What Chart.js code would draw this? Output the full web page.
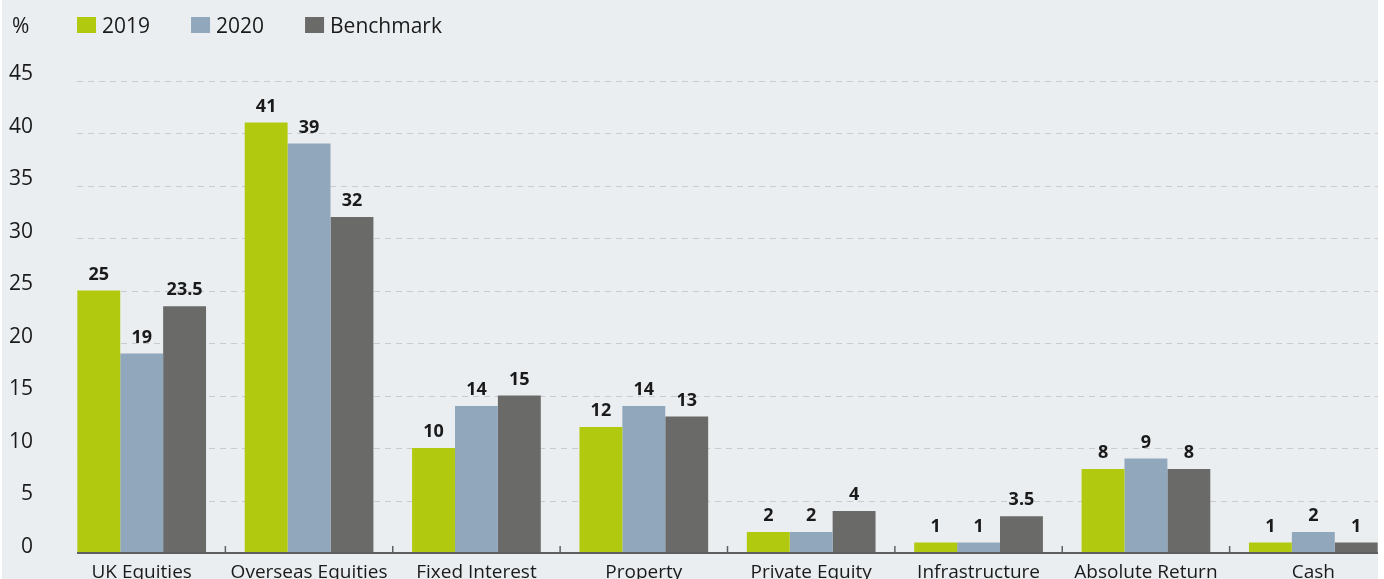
<!DOCTYPE html>
<html>
<head>
<meta charset="utf-8">
<script src="https://cdn.jsdelivr.net/npm/chart.js@4/dist/chart.umd.min.js"></script>
<style>
  html, body { margin: 0; padding: 0; background: #fff; overflow: hidden; }
  #wrap { position: absolute; left: 2px; top: 0; width: 1376px; height: 579px; overflow: hidden; background: #eaeef1; }
  #chart { position: absolute; left: -2px; top: 0; }
</style>
</head>
<body>
<div id="wrap"><canvas id="chart" width="1397" height="579"></canvas></div>
<script>
const categories = ['UK Equities', 'Overseas Equities', 'Fixed Interest', 'Property',
  'Private Equity', 'Infrastructure', 'Absolute Return', 'Cash'];
const values2019 = [25, 41, 10, 12, 2, 1, 8, 1];
const values2020 = [19, 39, 14, 14, 2, 1, 9, 2];
const benchmark = [23.5, 32, 15, 13, 4, 3.5, 8, 1];
const seriesNames = ['2019', '2020', 'Benchmark'];
const yTicks = [0, 5, 10, 15, 20, 25, 30, 35, 40, 45];
const unitLabel = '%';

const colors = ['#b1ca0f', '#91a7bb', '#6a6a68'];
const font = '"Open Sans", "Noto Sans", sans-serif';
const textColor = '#1a1a1a';

// dashed gridlines + axis line + small upward category ticks
const axisPlugin = {
  id: 'axisDecor',
  beforeDatasetsDraw(chart) {
    const { ctx, chartArea, scales } = chart;
    const xStart = 77;
    ctx.save();
    ctx.strokeStyle = '#c9cbcd';
    ctx.lineWidth = 1;
    ctx.setLineDash([6, 5]);
    yTicks.forEach(v => {
      if (v === 0) return;
      const y = Math.round(scales.y.getPixelForValue(v)) + 0.5;
      ctx.beginPath();
      ctx.moveTo(xStart, y);
      ctx.lineTo(chartArea.right, y);
      ctx.stroke();
    });
    ctx.restore();
  },
  afterDatasetsDraw(chart) {
    const { ctx, chartArea, scales } = chart;
    const y0 = scales.y.getPixelForValue(0);
    ctx.save();
    ctx.strokeStyle = '#5f5f5f';
    ctx.lineWidth = 2;
    ctx.beginPath();
    ctx.moveTo(77, y0);
    ctx.lineTo(chartArea.right, y0);
    ctx.stroke();
    ctx.lineWidth = 1.5;
    for (let i = 1; i < categories.length; i++) {
      const x = (scales.x.getPixelForValue(i - 1) + scales.x.getPixelForValue(i)) / 2;
      ctx.beginPath();
      ctx.moveTo(x, y0);
      ctx.lineTo(x, y0 - 7);
      ctx.stroke();
    }
    // value labels above bars
    ctx.fillStyle = textColor;
    ctx.font = 'bold 18px ' + font;
    ctx.textAlign = 'center';
    ctx.textBaseline = 'alphabetic';
    chart.data.datasets.forEach((ds, di) => {
      chart.getDatasetMeta(di).data.forEach((bar, i) => {
        ctx.fillText(String(ds.data[i]), bar.x, bar.y - 11);
      });
    });
    ctx.restore();
  },
  afterDraw(chart) {
    const { ctx } = chart;
    ctx.save();
    ctx.font = '21px ' + font;
    ctx.fillStyle = textColor;
    ctx.textBaseline = 'alphabetic';
    ctx.textAlign = 'left';
    ctx.fillText(unitLabel, 12, 33);
    let x = 77;
    seriesNames.forEach((name, i) => {
      ctx.fillStyle = colors[i];
      ctx.fillRect(x, 17, 19, 16);
      ctx.fillStyle = textColor;
      ctx.fillText(name, x + 25, 33);
      x += 25 + ctx.measureText(name).width + 41;
    });
    ctx.restore();
  }
};

new Chart(document.getElementById('chart'), {
  type: 'bar',
  data: {
    labels: categories,
    datasets: [values2019, values2020, benchmark].map((d, i) => ({
      label: seriesNames[i],
      data: d,
      backgroundColor: colors[i],
      borderWidth: 0,
      categoryPercentage: 0.769,
      barPercentage: 1
    }))
  },
  options: {
    responsive: false,
    animation: false,
    layout: { padding: { top: 80.5, right: 0, bottom: 0, left: 0 } },
    plugins: { legend: { display: false }, tooltip: { enabled: false } },
    scales: {
      x: {
        grid: { display: false, drawTicks: false },
        border: { display: false },
        ticks: { color: textColor, font: { family: font, size: 19 }, padding: 8, maxRotation: 0, autoSkip: false },
        afterFit(scale) { scale.height = 26; }
      },
      y: {
        min: 0,
        max: 45,
        grid: { display: false, drawTicks: false },
        border: { display: false },
        afterBuildTicks(scale) { scale.ticks = yTicks.map(v => ({ value: v })); },
        ticks: { color: textColor, font: { family: font, size: 21 }, padding: 25, labelOffset: -6 },
        afterFit(scale) {
          scale.width = 58;
          scale.paddingTop = 0;
          scale.paddingBottom = 0;
        }
      }
    }
  },
  plugins: [axisPlugin]
});
</script>
</body>
</html>
